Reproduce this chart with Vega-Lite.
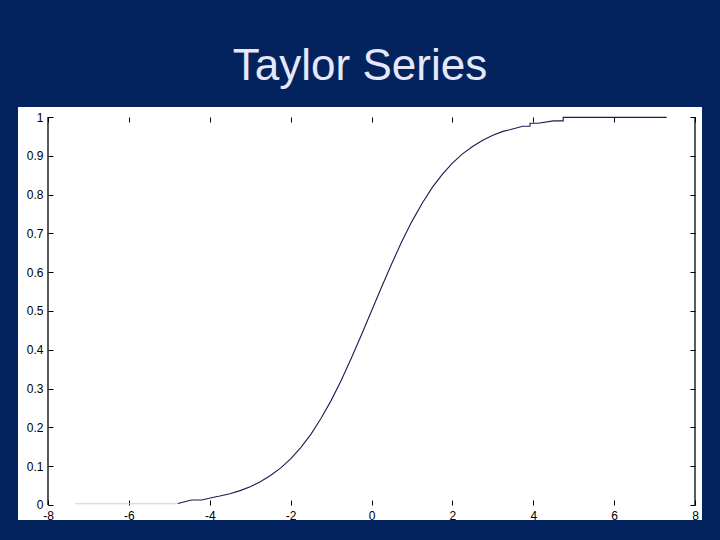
{
  "$schema": "https://vega.github.io/schema/vega-lite/v6.json",
  "width": 684,
  "height": 413,
  "autosize": "none",
  "padding": {"left": 18, "top": 107, "right": 18, "bottom": 20},
  "background": "#03235f",
  "view": {"fill": "white", "stroke": null},
  "title": {"text": "Taylor Series", "font": "Liberation Sans", "fontSize": 44, "fontWeight": "normal", "color": "#e6e8fa", "anchor": "middle", "offset": 18},
  "datasets": {
    "curve": [
      {"i": 0, "x": -7.33, "y": 0.003, "seg": "tail"},
      {"i": 1, "x": -4.79, "y": 0.003, "seg": "tail"},
      {"i": 2, "x": -4.79, "y": 0.004, "seg": "main"},
      {"i": 3, "x": -4.45, "y": 0.013, "seg": "main"},
      {"i": 4, "x": -4.2, "y": 0.013, "seg": "main"},
      {"i": 5, "x": -3.9, "y": 0.02, "seg": "main"},
      {"i": 6, "x": -3.75, "y": 0.023, "seg": "main"},
      {"i": 7, "x": -3.5, "y": 0.029, "seg": "main"},
      {"i": 8, "x": -3.25, "y": 0.037, "seg": "main"},
      {"i": 9, "x": -3.0, "y": 0.047, "seg": "main"},
      {"i": 10, "x": -2.75, "y": 0.06, "seg": "main"},
      {"i": 11, "x": -2.5, "y": 0.076, "seg": "main"},
      {"i": 12, "x": -2.25, "y": 0.095, "seg": "main"},
      {"i": 13, "x": -2.0, "y": 0.119, "seg": "main"},
      {"i": 14, "x": -1.75, "y": 0.148, "seg": "main"},
      {"i": 15, "x": -1.5, "y": 0.182, "seg": "main"},
      {"i": 16, "x": -1.25, "y": 0.223, "seg": "main"},
      {"i": 17, "x": -1.0, "y": 0.269, "seg": "main"},
      {"i": 18, "x": -0.75, "y": 0.321, "seg": "main"},
      {"i": 19, "x": -0.5, "y": 0.378, "seg": "main"},
      {"i": 20, "x": -0.25, "y": 0.438, "seg": "main"},
      {"i": 21, "x": 0.0, "y": 0.5, "seg": "main"},
      {"i": 22, "x": 0.25, "y": 0.562, "seg": "main"},
      {"i": 23, "x": 0.5, "y": 0.622, "seg": "main"},
      {"i": 24, "x": 0.75, "y": 0.679, "seg": "main"},
      {"i": 25, "x": 1.0, "y": 0.731, "seg": "main"},
      {"i": 26, "x": 1.25, "y": 0.777, "seg": "main"},
      {"i": 27, "x": 1.5, "y": 0.818, "seg": "main"},
      {"i": 28, "x": 1.75, "y": 0.852, "seg": "main"},
      {"i": 29, "x": 2.0, "y": 0.881, "seg": "main"},
      {"i": 30, "x": 2.25, "y": 0.905, "seg": "main"},
      {"i": 31, "x": 2.5, "y": 0.924, "seg": "main"},
      {"i": 32, "x": 2.75, "y": 0.94, "seg": "main"},
      {"i": 33, "x": 3.0, "y": 0.953, "seg": "main"},
      {"i": 34, "x": 3.25, "y": 0.963, "seg": "main"},
      {"i": 35, "x": 3.42, "y": 0.967, "seg": "main"},
      {"i": 36, "x": 3.74, "y": 0.976, "seg": "main"},
      {"i": 37, "x": 3.92, "y": 0.976, "seg": "main"},
      {"i": 38, "x": 3.92, "y": 0.984, "seg": "main"},
      {"i": 39, "x": 4.12, "y": 0.984, "seg": "main"},
      {"i": 40, "x": 4.5, "y": 0.99, "seg": "main"},
      {"i": 41, "x": 4.74, "y": 0.99, "seg": "main"},
      {"i": 42, "x": 4.74, "y": 0.999, "seg": "main"},
      {"i": 43, "x": 7.3, "y": 0.999, "seg": "main"}
    ],
    "box": [
      {"bx": -8, "y0": 0, "y1": 1},
      {"bx": 8, "y0": 0, "y1": 1}
    ]
  },
  "resolve": {"axis": {"x": "independent", "y": "independent"}},
  "layer": [
    {
      "data": {"name": "curve"},
      "mark": {"type": "line", "strokeWidth": 1.1},
      "encoding": {
        "x": {
          "field": "x", "type": "quantitative",
          "scale": {"domain": [-8.7419, 8.1731], "nice": false, "zero": false},
          "axis": {
            "orient": "bottom", "offset": -15, "domain": false, "grid": false, "title": null,
            "values": [-8, -6, -4, -2, 0, 2, 4, 6, 8],
            "labelExpr": "'' + datum.value",
            "tickSize": -5, "tickColor": "#000000", "tickWidth": 1,
            "labelPadding": 10, "labelFont": "Liberation Sans", "labelFontSize": 12, "labelColor": "#000000",
            "labelFlush": false, "labelOverlap": false
          }
        },
        "y": {
          "field": "y", "type": "quantitative",
          "scale": {"domain": [-0.0387, 1.0258], "nice": false, "zero": false},
          "axis": {
            "orient": "left", "offset": -30, "domain": false, "grid": false, "title": null,
            "values": [0, 0.1, 0.2, 0.3, 0.4, 0.5, 0.6, 0.7, 0.8, 0.9, 1],
            "format": ".1~f",
            "tickSize": -5, "tickColor": "#000000", "tickWidth": 1,
            "labelPadding": 10, "labelFont": "Liberation Sans", "labelFontSize": 12, "labelColor": "#000000",
            "labelFlush": false, "labelOverlap": false
          }
        },
        "order": {"field": "i", "type": "quantitative"},
        "color": {
          "field": "seg", "type": "nominal",
          "scale": {"domain": ["main", "tail"], "range": ["#1b1b52", "#c9d0ea"]},
          "legend": null
        }
      }
    },
    {
      "data": {"name": "box"},
      "mark": {"type": "rule", "color": "#000000", "strokeWidth": 1.3},
      "encoding": {
        "x": {
          "field": "bx", "type": "quantitative",
          "axis": {
            "orient": "top", "offset": -10, "domain": false, "grid": false, "title": null,
            "values": [-8, -6, -4, -2, 0, 2, 4, 6, 8], "labels": false,
            "tickSize": -5, "tickColor": "#000000", "tickWidth": 1
          }
        },
        "y": {
          "field": "y0", "type": "quantitative",
          "axis": {
            "orient": "right", "offset": -7, "domain": false, "grid": false, "title": null,
            "values": [0, 0.1, 0.2, 0.3, 0.4, 0.5, 0.6, 0.7, 0.8, 0.9, 1], "labels": false,
            "tickSize": -5, "tickColor": "#000000", "tickWidth": 1
          }
        },
        "y2": {"field": "y1"}
      }
    }
  ]
}
